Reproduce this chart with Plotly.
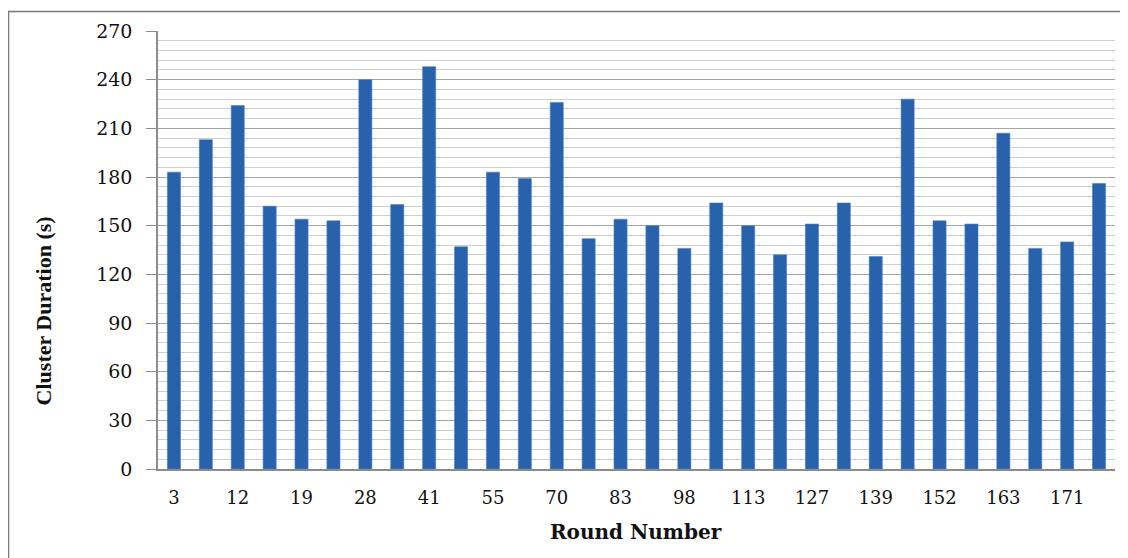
import plotly.graph_objects as go

# Data
bar_index = list(range(30))
durations = [183, 203, 224, 162, 154, 153, 240, 163, 248, 137,
             183, 179, 226, 142, 154, 150, 136, 164, 150, 132,
             151, 164, 131, 228, 153, 151, 207, 136, 140, 176]
tick_positions = [0, 2, 4, 6, 8, 10, 12, 14, 16, 18, 20, 22, 24, 26, 28]
tick_labels = ["3", "12", "19", "28", "41", "55", "70", "83", "98",
               "113", "127", "139", "152", "163", "171"]
y_ticks = [0, 30, 60, 90, 120, 150, 180, 210, 240, 270]

serif = "Liberation Serif, Times New Roman, serif"
wide_serif = "DejaVu Serif, serif"

fig = go.Figure()
fig.add_trace(go.Bar(
    x=bar_index,
    y=durations,
    width=0.41,
    marker=dict(color="#2862ad", line=dict(color="#4a7fc0", width=0.6)),
    showlegend=False,
))

fig.update_layout(
    width=1120, height=550,
    margin=dict(l=150, r=13, t=21, b=89),
    paper_bgcolor="white",
    plot_bgcolor="white",
    bargap=0.6,
    font=dict(family=serif, color="#111111"),
    xaxis=dict(
        range=[-0.5, 29.5],
        tickmode="array",
        tickvals=tick_positions,
        ticktext=tick_labels,
        showgrid=False,
        showline=True,
        linecolor="#8c8c8c",
        linewidth=1.5,
        ticks="",
        tickfont=dict(size=18, family=wide_serif, color="#111111"),
        ticklabelstandoff=12,
        zeroline=False,
    ),
    yaxis=dict(
        range=[0, 270],
        tickmode="array",
        tickvals=y_ticks,
        showgrid=True,
        gridcolor="#a6a6a6",
        gridwidth=1.2,
        showline=True,
        linecolor="#8c8c8c",
        linewidth=1.5,
        ticks="outside",
        ticklen=10,
        tickcolor="#8c8c8c",
        tickfont=dict(size=19, family=wide_serif, color="#111111"),
        ticklabelstandoff=10,
        zeroline=False,
        minor=dict(dtick=6, showgrid=True, gridcolor="#cfcfcf", gridwidth=1, ticks=""),
    ),
    annotations=[
        dict(text="<b>Cluster Duration (s)</b>", xref="paper", yref="paper",
             x=-0.1202, y=0.362, textangle=-90, showarrow=False,
             xanchor="center", yanchor="middle",
             font=dict(size=22, family=serif, color="#111111")),
        dict(text="<b>Round Number</b>", xref="paper", yref="paper",
             x=0.4995, y=-0.1433, showarrow=False,
             xanchor="center", yanchor="middle",
             font=dict(size=20, family=wide_serif, color="#111111")),
    ],
    shapes=[
        dict(type="rect", xref="paper", yref="paper",
             x0=-0.1562, x1=1.0125, y0=-0.35, y1=1.0444,
             line=dict(color="#7a7a7a", width=1.5), fillcolor="rgba(0,0,0,0)",
             layer="below"),
    ],
)

fig.write_html("out.html")
